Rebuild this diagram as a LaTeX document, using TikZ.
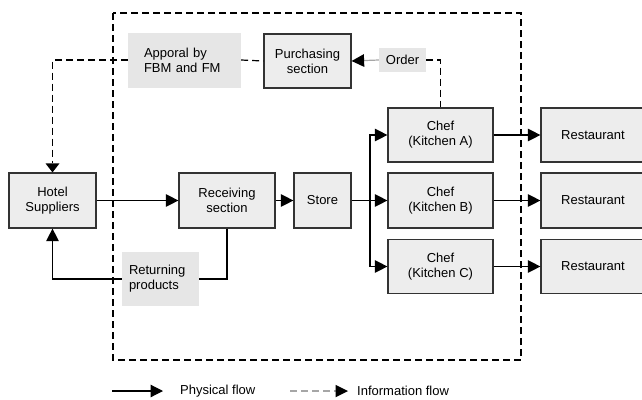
\documentclass[tikz,border=0pt]{standalone}
\usepackage{fontspec}
\setmainfont{Liberation Sans}
\usetikzlibrary{arrows.meta}
\definecolor{boxgray}{HTML}{EDEDED}
\definecolor{labgray}{HTML}{E6E6E6}
\begin{document}
\begin{tikzpicture}[x=1pt,y=-1pt,
  box/.style={draw=black!80,line width=1.2pt,fill=boxgray,align=center,inner sep=0pt,
    font=\fontsize{13}{15}\selectfont},
  lab/.style={fill=labgray,align=left,inner sep=0pt,font=\fontsize{13}{15}\selectfont},
  flow/.style={line width=1.2pt,-{Triangle[length=12.5pt,width=12.5pt]}},
  info/.style={line width=1.2pt,dash pattern=on 7pt off 4pt},
  tip/.style={-{Triangle[length=9pt,width=14pt,line width=0pt]}}]
\useasboundingbox (0,0) rectangle (642,399);
\draw[info] (113,13) rectangle (521,360);
\node[box,minimum width=87pt,minimum height=55pt] (hotel) at (52.5,200.5) {Hotel\\Suppliers};
\node[lab,minimum width=113pt,minimum height=55pt,text width=81pt] (apporal) at (184.5,60) {Apporal by\\FBM and FM};
\node[box,minimum width=87pt,minimum height=54pt] (purch) at (307.5,61) {Purchasing\\section};
\node[lab,minimum width=47pt,minimum height=24pt,align=center] (order) at (402.5,60) {Order};
\node[box,minimum width=96pt,minimum height=55pt] (recv) at (227,200.5) {Receiving\\section};
\node[box,minimum width=57pt,minimum height=55pt] (store) at (322.5,200.5) {Store};
\node[box,minimum width=105pt,minimum height=54pt] (chefA) at (440.5,135) {Chef\\(Kitchen A)};
\node[box,minimum width=105pt,minimum height=55pt] (chefB) at (440.5,200.5) {Chef\\(Kitchen B)};
\node[box,minimum width=105pt,minimum height=54pt] (chefC) at (440.5,266.5) {Chef\\(Kitchen C)};
\node[box,minimum width=104pt,minimum height=54pt] (restA) at (593,135) {Restaurant};
\node[box,minimum width=104pt,minimum height=55pt] (restB) at (593,200.5) {Restaurant};
\node[box,minimum width=104pt,minimum height=54pt] (restC) at (593,266.5) {Restaurant};
\node[lab,minimum width=77pt,minimum height=54pt,text width=63pt] (ret) at (160.5,279) {Returning\\products};
\coordinate (split) at (370,200.5);
\draw[info,tip] (apporal.west) -| (hotel.north);
\draw[info] (apporal.east) -- (purch.west);
\draw[line width=1.2pt,draw=black!35,-{Triangle[length=12.5pt,width=12.5pt,color=black]}] (order.west) -- (purch.east);
\draw[info] (order.east) -| (chefA.north);
\draw[flow] (hotel.east) -- (recv.west);
\draw[flow] (recv.east) -- (store.west);
\draw[flow] (store.east) -- (chefB.west);
\draw[flow] (split) |- (chefA.west);
\draw[flow] (split) |- (chefC.west);
\draw[flow] (chefA.east) -- (restA.west);
\draw[flow] (chefB.east) -- (restB.west);
\draw[flow] (chefC.east) -- (restC.west);
\draw[line width=1.2pt] (recv.south) |- (ret.east);
\draw[flow] (ret.west) -| (hotel.south);
\coordinate (p1) at (112,391);
\coordinate (p2) at (163,391);
\coordinate (i1) at (290,391);
\coordinate (i2) at (348,391);
\draw[flow] (p1) -- (p2);
\draw[line width=1.2pt,draw=black!35,dash pattern=on 7pt off 4pt,-{Triangle[length=12.5pt,width=12.5pt,color=black,line width=0pt]}] (i1) -- (i2);
\node[anchor=west,inner sep=0pt,font=\fontsize{13}{15}\selectfont] (ptext) at (180,391) {Physical flow};
\node[anchor=west,inner sep=0pt,font=\fontsize{13}{15}\selectfont] (itext) at (357,391) {Information flow};
\end{tikzpicture}
\end{document}
